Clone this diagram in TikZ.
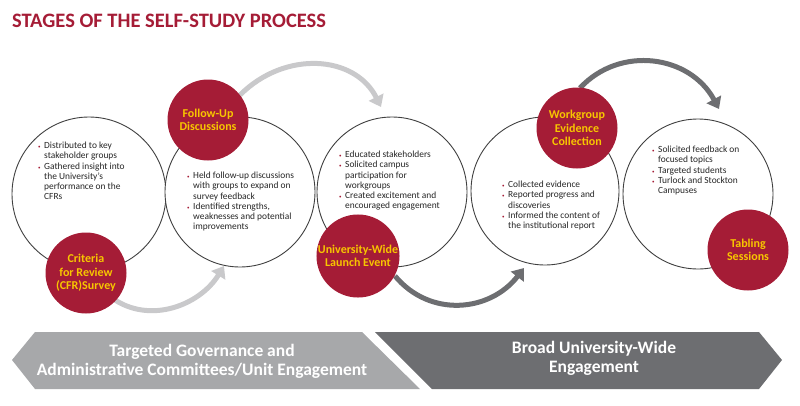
\documentclass[tikz,border=0pt]{standalone}
\usepackage{fontspec}
\setmainfont{Carlito}
\usetikzlibrary{arrows.meta}
\definecolor{crim}{HTML}{A51C36}
\definecolor{gold}{HTML}{F7C600}
\definecolor{lgray}{HTML}{A7A8AA}
\definecolor{dgray}{HTML}{6D6E71}
\definecolor{agray}{HTML}{C9C9CB}
\newcommand{\bi}[1]{\hyphenpenalty=10000\exhyphenpenalty=10000\hangindent=6pt\hangafter=1\noindent\makebox[6pt][l]{\textcolor{crim}{\tiny\textbullet}}#1\par}
\tikzset{
 wc/.style={circle,draw=black!75,line width=0.9pt,fill=white,minimum size=#1},
 rc/.style={circle,fill=crim,minimum size=81pt,inner sep=0pt,text=gold,font=\fontsize{12}{13.5}\selectfont\bfseries,align=center},
 bt/.style={text width=#1,align=flush left,font=\fontsize{9.4}{10.2}\selectfont,text=black!85,inner sep=0pt,anchor=north west},
 arl/.style={draw=agray,line width=5pt,-{Triangle[length=11pt,width=16pt]}},
 ard/.style={draw=dgray,line width=5pt,-{Triangle[length=11pt,width=16pt]}},
}
\begin{document}
\begin{tikzpicture}[x=1pt,y=-1pt]
\useasboundingbox (0,0) rectangle (800,405);
\node[anchor=west,text=crim,font=\fontsize{20.5}{22}\selectfont\bfseries,inner sep=0pt] (title) at (12,21) {STAGES OF THE SELF-STUDY PROCESS};
% arrows behind
\coordinate (a1s) at (112,298); \coordinate (a1e) at (224,266);
\coordinate (a2s) at (240,95); \coordinate (a2e) at (381,107);
\coordinate (a3s) at (395,276); \coordinate (a3e) at (524,268);
\coordinate (a4s) at (580,88); \coordinate (a4e) at (719,109);
\draw[arl] (a1s) .. controls (150,325) and (200,305) .. (a1e);
\draw[arl] (a2s) .. controls (285,50) and (355,55) .. (a2e);
\draw[ard] (a3s) .. controls (430,318) and (490,312) .. (a3e);
\draw[ard] (a4s) .. controls (620,45) and (690,55) .. (a4e);
% white circles
\node[wc=154pt] (c1) at (89,194) {};
\node[wc=150pt] (c2) at (240,192) {};
\node[wc=150pt] (c3) at (392,192) {};
\node[wc=148pt] (c4) at (545,191) {};
\node[wc=150pt] (c5) at (698,194) {};
% texts
\node[bt=100pt] (t1) at (38,142) {\bi{Distributed to key stakeholder groups}\bi{Gathered insight into the University's performance on the CFRs}};
\node[bt=108pt] (t2) at (187,172) {\bi{Held follow-up discussions with groups to expand on survey feedback}\bi{Identified strengths, weaknesses and potential improvements}};
\node[bt=104pt] (t3) at (339,151) {\bi{Educated stakeholders}\bi{Solicited campus participation for workgroups}\bi{Created excitement and encouraged engagement}};
\node[bt=100pt] (t4) at (502,181) {\bi{Collected evidence}\bi{Reported progress and discoveries}\bi{Informed the content of the institutional report}};
\node[bt=100pt] (t5) at (652,146) {\bi{Solicited feedback on focused topics}\bi{Targeted students}\bi{Turlock and Stockton Campuses}};
% red circles
\node[rc] (r1) at (86,273) {Criteria\\for Review\\(CFR)Survey};
\node[rc] (r2) at (208,120) {Follow-Up\\Discussions};
\node[rc] (r3) at (358,256) {University-Wide\\Launch Event};
\node[rc] (r4) at (577,128) {Workgroup\\Evidence\\Collection};
\node[rc] (r5) at (748,250) {Tabling\\Sessions};
% banner
\fill[lgray] (12,360) -- (35,332) -- (362,332) -- (420,389) -- (35,389) -- cycle;
\fill[dgray] (375,332) -- (759,332) -- (782,360) -- (759,389) -- (432,389) -- cycle;
\node[text=white,font=\fontsize{17.5}{19}\selectfont\bfseries,align=center] (b1) at (202,361) {Targeted Governance and\\Administrative Committees/Unit Engagement};
\node[text=white,font=\fontsize{17.5}{19}\selectfont\bfseries,align=center] (b2) at (594,358) {Broad University-Wide\\Engagement};
\end{tikzpicture}
\end{document}
